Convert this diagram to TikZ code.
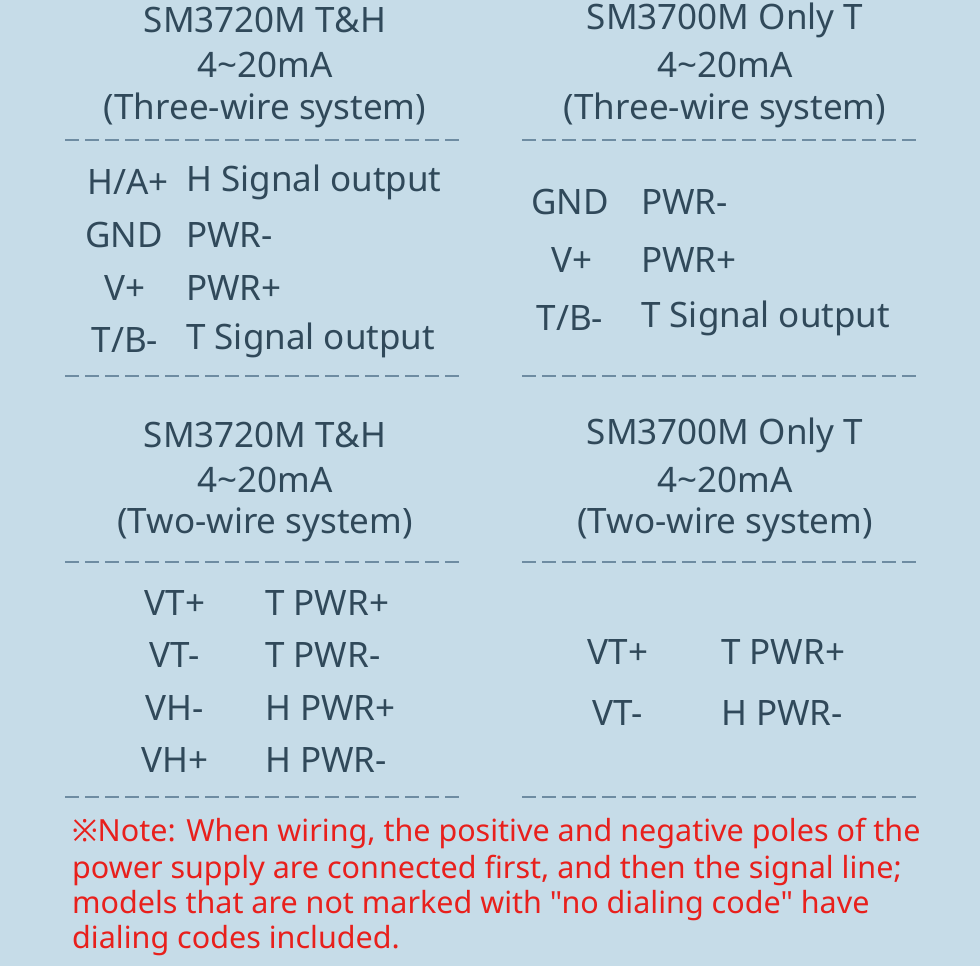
\documentclass[tikz,border=0pt]{standalone}
\usepackage{fontspec}
\setmainfont{Noto Sans}[Ligatures=TeXOff]
\definecolor{bg}{HTML}{C6DCE8}
\definecolor{txt}{HTML}{30495A}
\definecolor{dsh}{HTML}{6E8CA2}
\definecolor{note}{HTML}{E8201C}
\begin{document}
\begin{tikzpicture}[x=1pt,y=-1pt,
  t/.style={text=txt,font=\fontsize{35}{40}\selectfont,inner sep=0pt},
  tl/.style={t,anchor=west},
  dl/.style={draw=dsh,line width=2.6pt,dash pattern=on 14pt off 6pt},
  nt/.style={text=note,font=\fontsize{30.5}{34}\selectfont,anchor=west,inner sep=0pt}]
\fill[bg] (0,0) rectangle (980,966);
\useasboundingbox (0,0) rectangle (980,966);
% top-left
\node[t] (a1) at (265,20) {SM3720M T\&H};
\node[t] (a2) at (265,65) {4\textasciitilde20mA};
\node[t] (a3) at (265,110) {(Three-wire system)};
\coordinate (d1a) at (65,140); \coordinate (d1b) at (462,140);
\draw[dl] (d1a) -- (d1b);
\node[t] (l1) at (128,182) {H/A+}; \node[tl] (v1) at (186,182) {H Signal output};
\node[t] (l2) at (124,235) {GND}; \node[tl] (v2) at (186,235) {PWR-};
\node[t] (l3) at (125,288) {V+}; \node[tl] (v3) at (186,288) {PWR+};
\node[t] (l4) at (125,340) {T/B-}; \node[tl] (v4) at (186,340) {T Signal output};
\coordinate (d2a) at (65,376); \coordinate (d2b) at (462,376);
\draw[dl] (d2a) -- (d2b);
% top-right
\node[t] (b1) at (725,20) {SM3700M Only T};
\node[t] (b2) at (725,65) {4\textasciitilde20mA};
\node[t] (b3) at (725,110) {(Three-wire system)};
\coordinate (d3a) at (522,140); \coordinate (d3b) at (917,140);
\draw[dl] (d3a) -- (d3b);
\node[t] (m1) at (570,202) {GND}; \node[tl] (w1) at (641,202) {PWR-};
\node[t] (m2) at (572,260) {V+}; \node[tl] (w2) at (641,260) {PWR+};
\node[t] (m3) at (570,318) {T/B-}; \node[tl] (w3) at (641,318) {T Signal output};
\coordinate (d4a) at (522,376); \coordinate (d4b) at (917,376);
\draw[dl] (d4a) -- (d4b);
% bottom-left
\node[t] (c1) at (265,435) {SM3720M T\&H};
\node[t] (c2) at (265,480) {4\textasciitilde20mA};
\node[t] (c3) at (265,525) {(Two-wire system)};
\coordinate (d5a) at (65,562); \coordinate (d5b) at (462,562);
\draw[dl] (d5a) -- (d5b);
\node[t] (n1) at (175,603) {VT+}; \node[tl] (x1) at (265,603) {T PWR+};
\node[t] (n2) at (175,655) {VT-}; \node[tl] (x2) at (265,655) {T PWR-};
\node[t] (n3) at (175,708) {VH-}; \node[tl] (x3) at (265,708) {H PWR+};
\node[t] (n4) at (175,760) {VH+}; \node[tl] (x4) at (265,760) {H PWR-};
\coordinate (d6a) at (65,797); \coordinate (d6b) at (462,797);
\draw[dl] (d6a) -- (d6b);
% bottom-right
\node[t] (e1) at (725,435) {SM3700M Only T};
\node[t] (e2) at (725,480) {4\textasciitilde20mA};
\node[t] (e3) at (725,525) {(Two-wire system)};
\coordinate (d7a) at (522,562); \coordinate (d7b) at (917,562);
\draw[dl] (d7a) -- (d7b);
\node[t] (p1) at (618,652) {VT+}; \node[tl] (y1) at (721,652) {T PWR+};
\node[t] (p2) at (618,713) {VT-}; \node[tl] (y2) at (721,713) {H PWR-};
\coordinate (d8a) at (522,797); \coordinate (d8b) at (917,797);
\draw[dl] (d8a) -- (d8b);
% note
\node[nt] (q1) at (72,833) {※Note: When wiring, the positive and negative poles of the};
\node[nt] (q2) at (72,870) {power supply are connected first, and then the signal line;};
\node[nt] (q3) at (72,906) {models that are not marked with "no dialing code" have};
\node[nt] (q4) at (72,941) {dialing codes included.};
\end{tikzpicture}
\end{document}
